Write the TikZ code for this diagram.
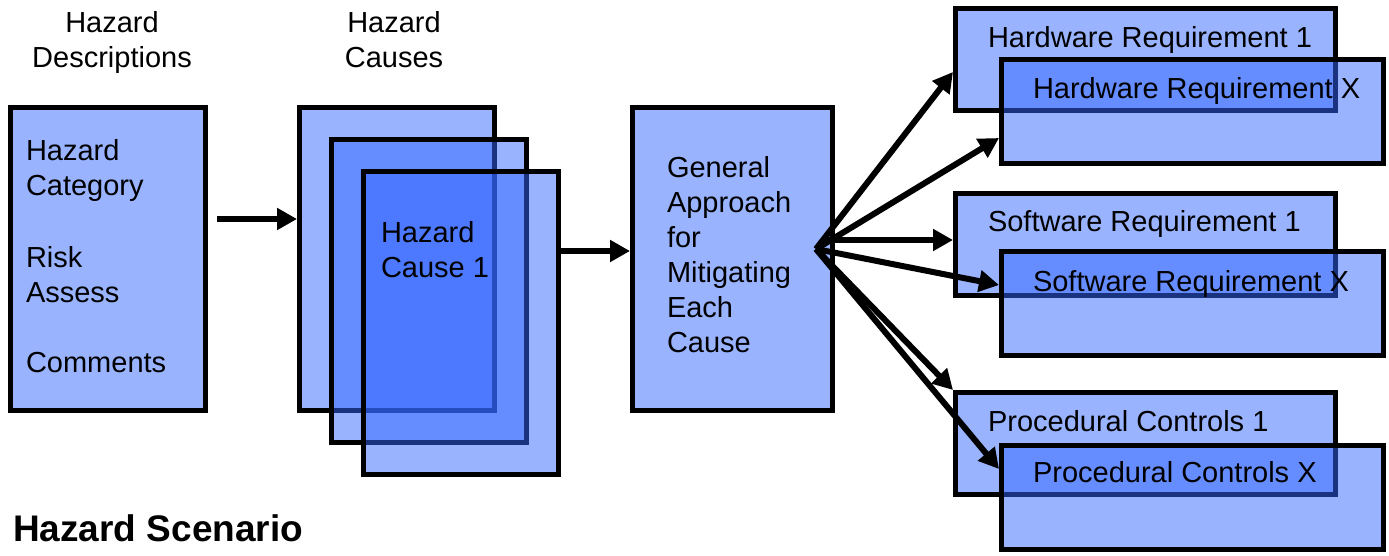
\documentclass[tikz,border=0pt]{standalone}
\usepackage{fontspec}
\setmainfont{Liberation Sans}
\usetikzlibrary{arrows.meta}
\definecolor{boxblue}{RGB}{51,103,255}
\tikzset{
  panel/.style={draw=black, line width=5pt, fill=boxblue, fill opacity=0.5,
    text opacity=1, inner sep=0pt, anchor=north west},
  tall/.style={panel, minimum width=195pt, minimum height=303pt},
  req/.style={panel, minimum width=380pt, minimum height=102pt},
  reqx/.style={panel, minimum width=382pt, minimum height=104pt},
  lbl/.style={font=\fontsize{29}{35}\selectfont, inner sep=0pt, outer sep=0pt},
  arr/.style={line width=6pt, -{Triangle[length=20pt,width=21pt]}},
}
\begin{document}
\begin{tikzpicture}[x=1pt, y=-1pt]
\useasboundingbox (0,0) rectangle (1389,555);

% column headings
\node[lbl, align=center, anchor=north] (hdesc) at (112,11) {Hazard\\Descriptions};
\node[lbl, align=center, anchor=north] (hcaus) at (394,11) {Hazard\\Causes};

% hazard description panel
\node[tall] (desc) at (8,105) {};
\node[lbl, align=left, anchor=north west] (desctxt) at (26,139)
  {Hazard\\Category\\[37pt]Risk\\Assess\\[35pt]Comments};

% stacked cause panels
\node[tall] (cA) at (297,105) {};
\node[tall] (cB) at (329,137) {};
\node[tall] (cC) at (361,169) {};
\node[lbl, align=left, anchor=north west] (ctxt) at (381,221) {Hazard\\Cause 1};

% general approach panel
\node[tall, minimum width=200pt] (gen) at (630,105) {};
\node[lbl, align=left, anchor=north west] (gtxt) at (667,156)
  {General\\Approach\\for\\Mitigating\\Each\\Cause};

% requirement panels
\node[req]  (hw1) at (953,6) {};
\node[reqx] (hwx) at (999,57) {};
\node[req]  (sw1) at (953,191) {};
\node[reqx] (swx) at (999,249) {};
\node[req]  (pc1) at (953,390) {};
\node[reqx] (pcx) at (999,443) {};

\node[lbl, anchor=base west] (hw1t) at (988,47)  {Hardware Requirement 1};
\node[lbl, anchor=base west] (hwxt) at (1033,98) {Hardware Requirement X};
\node[lbl, anchor=base west] (sw1t) at (988,231) {Software Requirement 1};
\node[lbl, anchor=base west] (swxt) at (1033,291) {Software Requirement X};
\node[lbl, anchor=base west] (pc1t) at (988,431) {Procedural Controls 1};
\node[lbl, anchor=base west] (pcxt) at (1033,482) {Procedural Controls X};

% flow arrows
\coordinate (a1) at (217,219);
\draw[arr] (a1) -- (a1 -| cA.west);
\coordinate (a2) at (556,251);
\draw[arr] (a2) -- (a2 -| gen.west);

% fan of arrows towards the requirements
\coordinate (fan) at (816,249);
\coordinate (y1) at (0,72);
\coordinate (y2) at (0,138);
\coordinate (y3) at (0,240);
\coordinate (y4) at (0,285);
\coordinate (y6) at (0,469);
\draw[arr] (fan) -- (hw1.west |- y1);
\draw[arr] (fan) -- (hwx.west |- y2);
\draw[arr] ([xshift=6pt]fan |- y3) -- (sw1.west |- y3);
\draw[arr] (fan) -- (swx.west |- y4);
\draw[arr] (fan) -- (pc1.north west);
\draw[arr] (fan) -- (pcx.west |- y6);

% caption
\node[font=\bfseries\fontsize{37}{44}\selectfont, inner sep=0pt, anchor=base west] (cap) at (13,541) {Hazard Scenario};
\end{tikzpicture}
\end{document}
